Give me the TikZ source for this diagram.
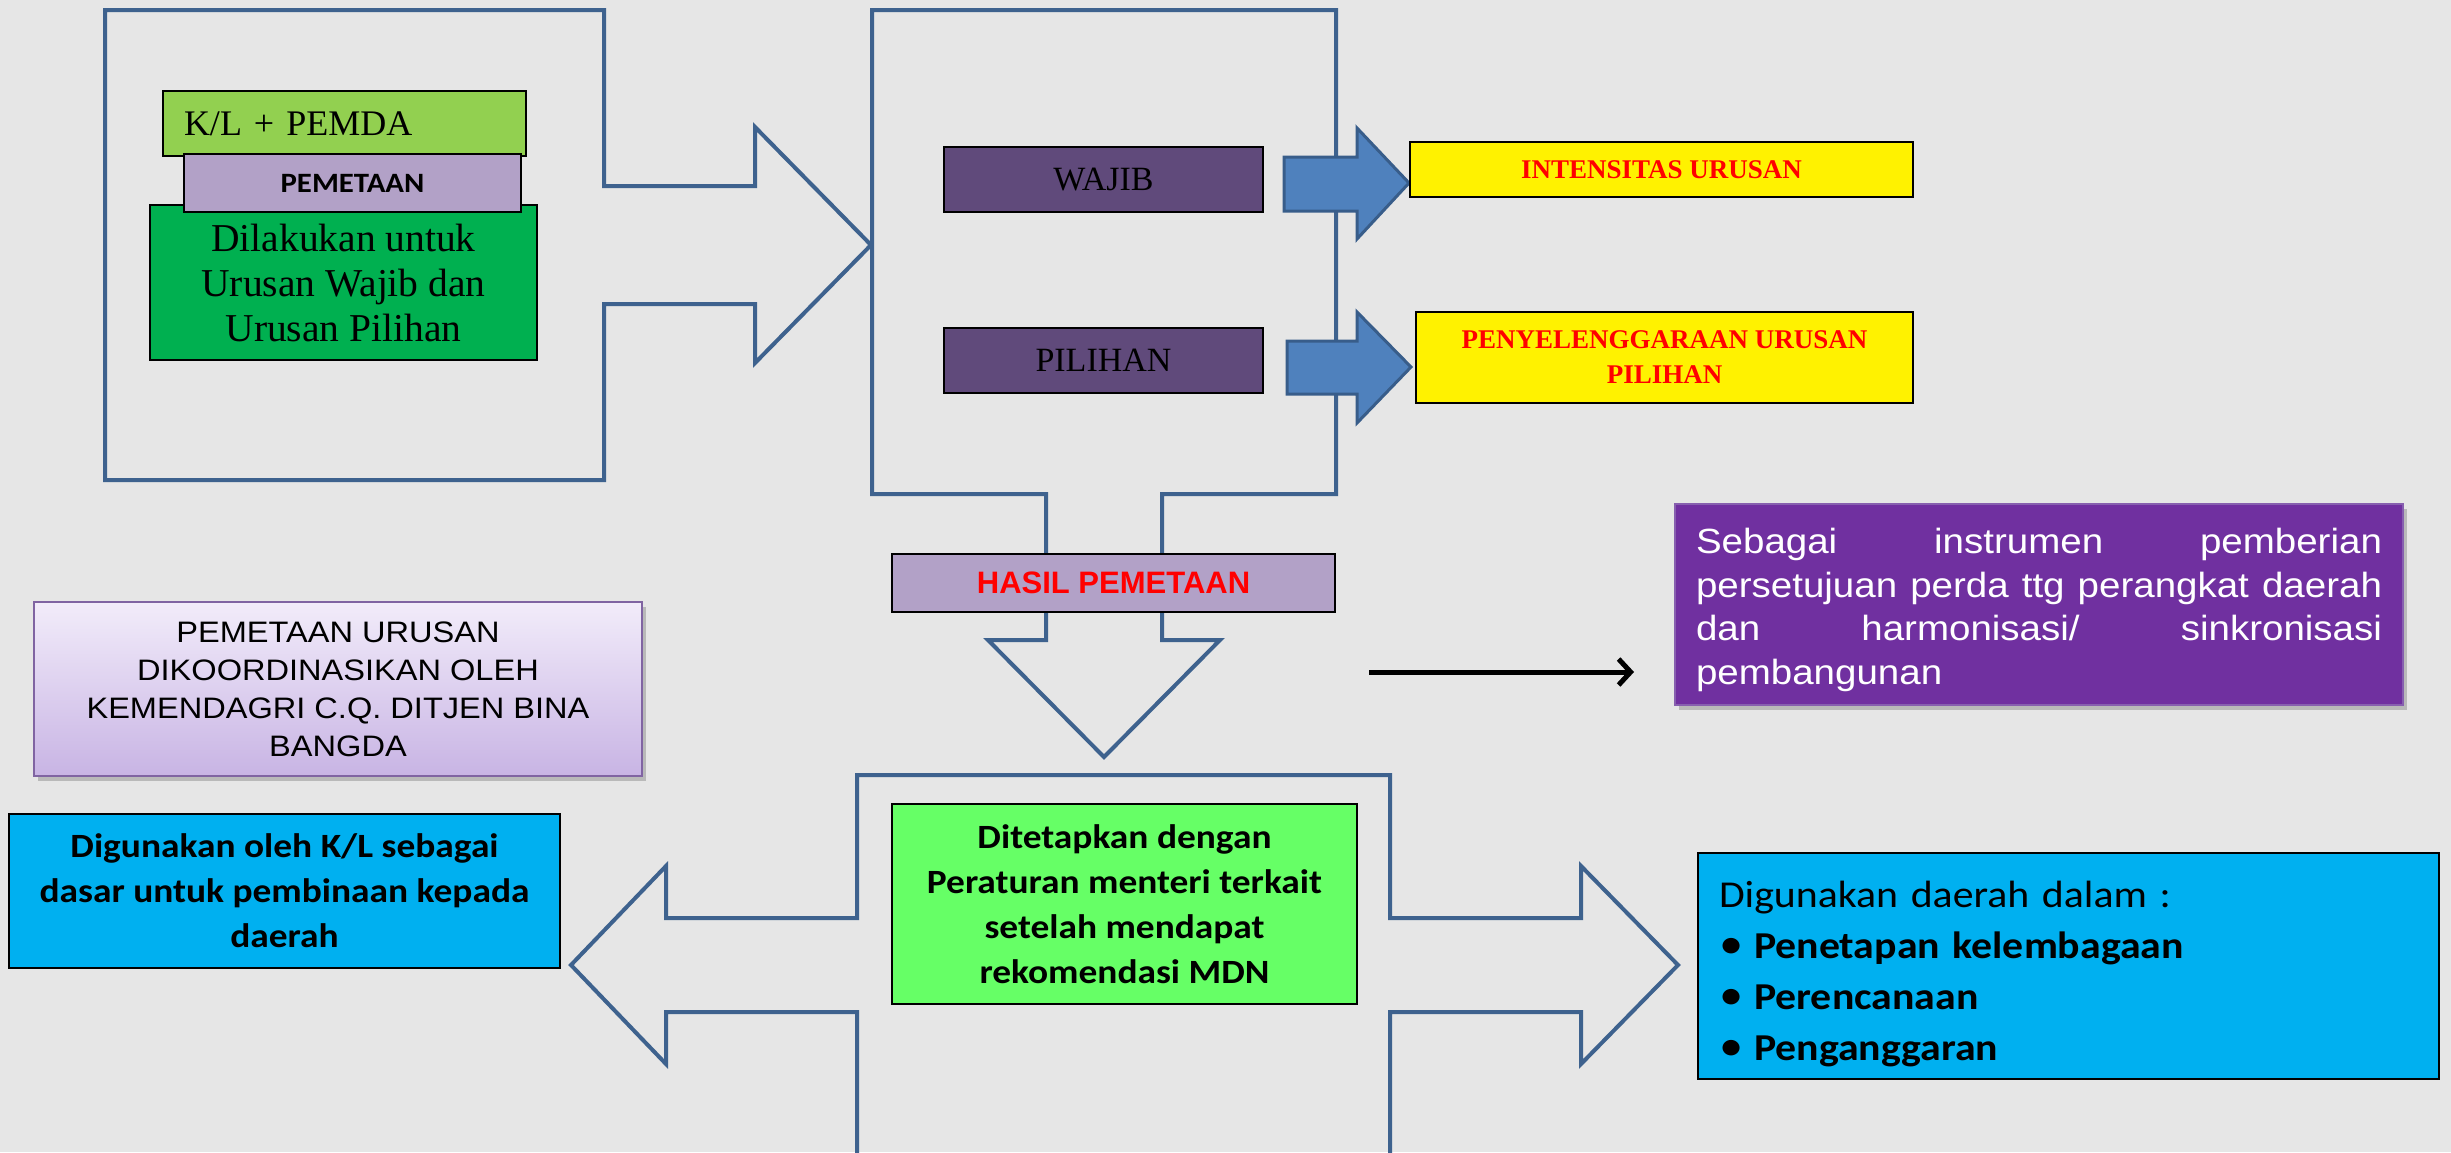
\documentclass[tikz,border=0pt]{standalone}
\usepackage{fontspec}
\setmainfont{Liberation Serif}
\newfontfamily\serifc{Liberation Serif}
\newfontfamily\calw[FakeStretch=1.1]{Carlito}
\newfontfamily\arialw[FakeStretch=1.1]{Liberation Sans}
\newfontfamily\arialn{Liberation Sans}
\usetikzlibrary{arrows.meta,shadows}
\newcommand\fsz[2]{\fontsize{#1pt}{#2pt}\selectfont}
% one line spread over the full text width
\newcommand\fullline[1]{\makebox[686pt][s]{\spaceskip=0pt #1}}

\definecolor{bgcol}{RGB}{230,230,230}
\definecolor{framecol}{RGB}{62,98,142}
\definecolor{arrfill}{RGB}{79,129,189}
\definecolor{arrline}{RGB}{56,93,138}
\definecolor{limecol}{RGB}{146,208,80}
\definecolor{lavcol}{RGB}{178,161,199}
\definecolor{dgreencol}{RGB}{0,176,80}
\definecolor{plumcol}{RGB}{96,74,123}
\definecolor{brightgreen}{RGB}{102,255,102}
\definecolor{skycol}{RGB}{0,176,240}
\definecolor{violetcol}{RGB}{112,48,160}
\definecolor{violetline}{RGB}{135,95,175}
\definecolor{lavtop}{RGB}{242,236,250}
\definecolor{lavbot}{RGB}{200,180,228}
\definecolor{lavline}{RGB}{128,100,162}
\definecolor{redtxt}{RGB}{255,0,0}

\begin{document}
\begin{tikzpicture}[x=1pt,y=-1pt,
  box/.style={draw=black, line width=2.5pt, inner sep=0pt, align=center},
  blockarrow/.style={draw=framecol, line width=4pt, line join=miter},
  bluearrow/.style={fill=arrfill, draw=arrline, line width=3pt, line join=miter},
  softshadow/.style={drop shadow={shadow xshift=4pt, shadow yshift=-5pt, opacity=.35, fill=black!60}}]

\useasboundingbox (0,0) rectangle (2451,1152);
\fill[bgcol] (0,0) rectangle (2451,1152);
\clip (0,0) rectangle (2451,1152);

% outlined block arrows
\draw[blockarrow] (105,10) -- (604,10) -- (604,186) -- (755,186) -- (755,127)
  -- (871,245) -- (755,363) -- (755,304) -- (604,304) -- (604,480) -- (105,480) -- cycle;
\draw[blockarrow] (872,10) -- (1336,10) -- (1336,494) -- (1162,494) -- (1162,640)
  -- (1220,640) -- (1104,757) -- (988,640) -- (1046,640) -- (1046,494) -- (872,494) -- cycle;
\draw[blockarrow] (857,775) -- (1390,775) -- (1390,918) -- (1581,918) -- (1581,866)
  -- (1678,965) -- (1581,1064) -- (1581,1012) -- (1390,1012) -- (1390,1220)
  -- (857,1220) -- (857,1012) -- (666,1012) -- (666,1064) -- (571,965)
  -- (666,866) -- (666,918) -- (857,918) -- cycle;

% left group
\node[box, fill=limecol, minimum width=363pt, minimum height=65pt, text width=321pt, align=left,
  font={\serifc\fsz{36}{43}}]
  (kl) at (344.5,123.5) {K/L + PEMDA};
\node[box, fill=dgreencol, minimum width=387pt, minimum height=155pt, font={\serifc\fsz{39.5}{45}}]
  (dil) at (343.5,282.5) {Dilakukan untuk\\Urusan Wajib dan\\Urusan Pilihan};
\node[box, fill=lavcol, minimum width=337pt, minimum height=58pt, font={\calw\bfseries\fsz{28}{34}}]
  (pem) at (352.5,183) {PEMETAAN};

% wajib / pilihan
\node[box, fill=plumcol, minimum width=319pt, minimum height=65pt, font={\serifc\fsz{34}{40}}]
  (wajib) at (1103.5,179.5) {WAJIB};
\node[box, fill=plumcol, minimum width=319pt, minimum height=65pt, font={\serifc\fsz{34}{40}}]
  (pilihan) at (1103.5,360.5) {PILIHAN};

\draw[bluearrow] (1284,157) -- (1357,157) -- (1357,128) -- (1409,183) -- (1357,239)
  -- (1357,211) -- (1284,211) -- cycle;
\draw[bluearrow] (1287,341) -- (1357,341) -- (1357,312) -- (1411,367) -- (1357,423)
  -- (1357,394) -- (1287,394) -- cycle;

\node[box, fill=yellow, minimum width=503pt, minimum height=55pt, text=redtxt,
  font={\serifc\bfseries\fsz{27}{35}}]
  (intens) at (1661.5,169.5) {INTENSITAS URUSAN};
\node[box, fill=yellow, minimum width=497pt, minimum height=91pt, text=redtxt,
  font={\serifc\bfseries\fsz{27}{35}}]
  (peny) at (1664.5,357.5) {PENYELENGGARAAN URUSAN\\PILIHAN};

% result label
\node[box, fill=lavcol, minimum width=443pt, minimum height=58pt, text=redtxt,
  font={\arialn\bfseries\fsz{31}{36}}]
  (hasil) at (1113.5,583) {HASIL PEMETAAN};

% coordination note
\node[draw=lavline, line width=2pt, inner sep=0pt, align=center, softshadow,
  top color=lavtop, bottom color=lavbot, minimum width=608pt, minimum height=174pt,
  font={\arialw\fsz{29.6}{38}}]
  (koord) at (338,689) {PEMETAAN URUSAN\\DIKOORDINASIKAN OLEH\\KEMENDAGRI C.Q. DITJEN BINA\\BANGDA};

% purple note and its arrow
\node[draw=violetline, line width=2pt, fill=violetcol, inner sep=0pt, softshadow,
  minimum width=728pt, minimum height=201pt, text width=686pt, align=left, text=white,
  font={\arialw\fsz{35}{43.5}}]
  (sebagai) at (2039,604.5) {%
  \rule{0pt}{36pt}\fullline{Sebagai instrumen pemberian}\\
  \fullline{persetujuan perda ttg perangkat daerah}\\
  \fullline{dan harmonisasi/ sinkronisasi}\\
  pembangunan};
\coordinate (arrA) at (1369,672);
\coordinate (arrB) at (1634,672);
\draw[line width=5pt, -{Straight Barb[length=12pt,width=26pt]}] (arrA) -- (arrB);

% bottom group
\node[box, fill=brightgreen, minimum width=465pt, minimum height=200pt,
  font={\calw\bfseries\fsz{34}{45}}]
  (tetap) at (1124.5,904) {Ditetapkan dengan\\Peraturan menteri terkait\\setelah mendapat\\rekomendasi MDN};
\node[box, fill=skycol, minimum width=551pt, minimum height=154pt,
  font={\calw\bfseries\fsz{34}{45}}]
  (klbina) at (284.5,891) {Digunakan oleh K/L sebagai\\dasar untuk pembinaan kepada\\daerah};
\node[box, fill=skycol, minimum width=741pt, minimum height=226pt, text width=699pt, align=left,
  font={\calw\fsz{38}{51}}]
  (daerah) at (2068.5,966) {\rule{0pt}{42pt}Digunakan daerah dalam :\\
  \makebox[35pt][l]{\fontsize{44pt}{51pt}\selectfont•}\textbf{Penetapan kelembagaan}\\
  \makebox[35pt][l]{\fontsize{44pt}{51pt}\selectfont•}\textbf{Perencanaan}\\
  \makebox[35pt][l]{\fontsize{44pt}{51pt}\selectfont•}\textbf{Penganggaran}};
\end{tikzpicture}
\end{document}
